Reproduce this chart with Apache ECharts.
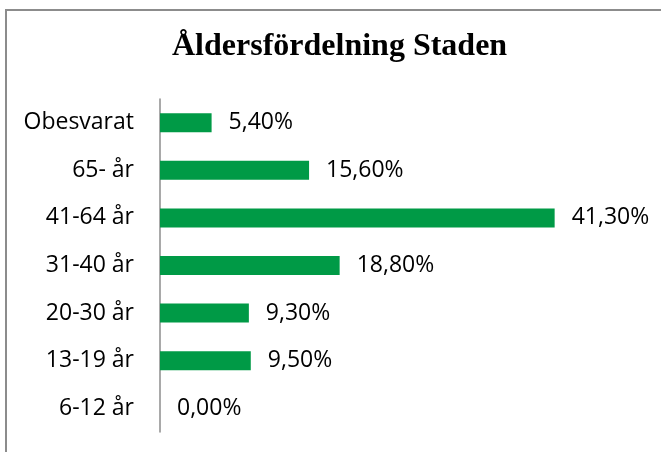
<!DOCTYPE html>
<html>
<head>
<meta charset="utf-8">
<script src="https://cdn.jsdelivr.net/npm/echarts@6/dist/echarts.min.js"></script>
<style>
  html, body { margin: 0; padding: 0; background: #fff; }
  #chart { width: 661px; height: 452px; }
</style>
</head>
<body>
<div id="chart"></div>
<script>
// kategorier uppifrån och ned
var categories = ["Obesvarat", "65- år", "41-64 år", "31-40 år", "20-30 år", "13-19 år", "6-12 år"];
var values = [5.4, 15.6, 41.3, 18.8, 9.3, 9.5, 0.0];

var myChart = echarts.init(document.getElementById("chart"));

var option = {
  backgroundColor: "#fff",
  // ram runt diagrammet
  graphic: [
    {
      type: "rect",
      shape: { x: 6, y: 10, width: 700, height: 500 },
      style: { fill: "none", stroke: "#8c8c8c", lineWidth: 2 },
      silent: true,
    },
  ],
  title: {
    text: "Åldersfördelning Staden",
    left: 172,
    top: 31,
    padding: 0,
    textStyle: {
      fontFamily: "Liberation Serif",
      fontWeight: "bold",
      fontSize: 32,
      color: "#000",
    },
  },
  grid: {
    left: 160,
    width: 430,
    top: 99,
    height: 333,
  },
  xAxis: {
    type: "value",
    min: 0,
    max: 45,
    show: false,
  },
  yAxis: {
    type: "category",
    inverse: true,
    data: categories,
    axisLine: { show: true, lineStyle: { color: "#8c8c8c", width: 1.5 } },
    axisTick: { show: false },
    axisLabel: {
      margin: 26,
      fontFamily: "Open Sans",
      fontSize: 23,
      color: "#000",
    },
  },
  series: [
    {
      type: "bar",
      data: values,
      barWidth: 19,
      itemStyle: { color: "#009a46" },
      label: {
        show: true,
        position: "right",
        distance: 17,
        fontFamily: "Open Sans",
        fontSize: 23,
        color: "#000",
        formatter: function (p) {
          return p.value.toFixed(2).replace(".", ",") + "%";
        },
      },
    },
  ],
};

myChart.setOption(option);
</script>
</body>
</html>
